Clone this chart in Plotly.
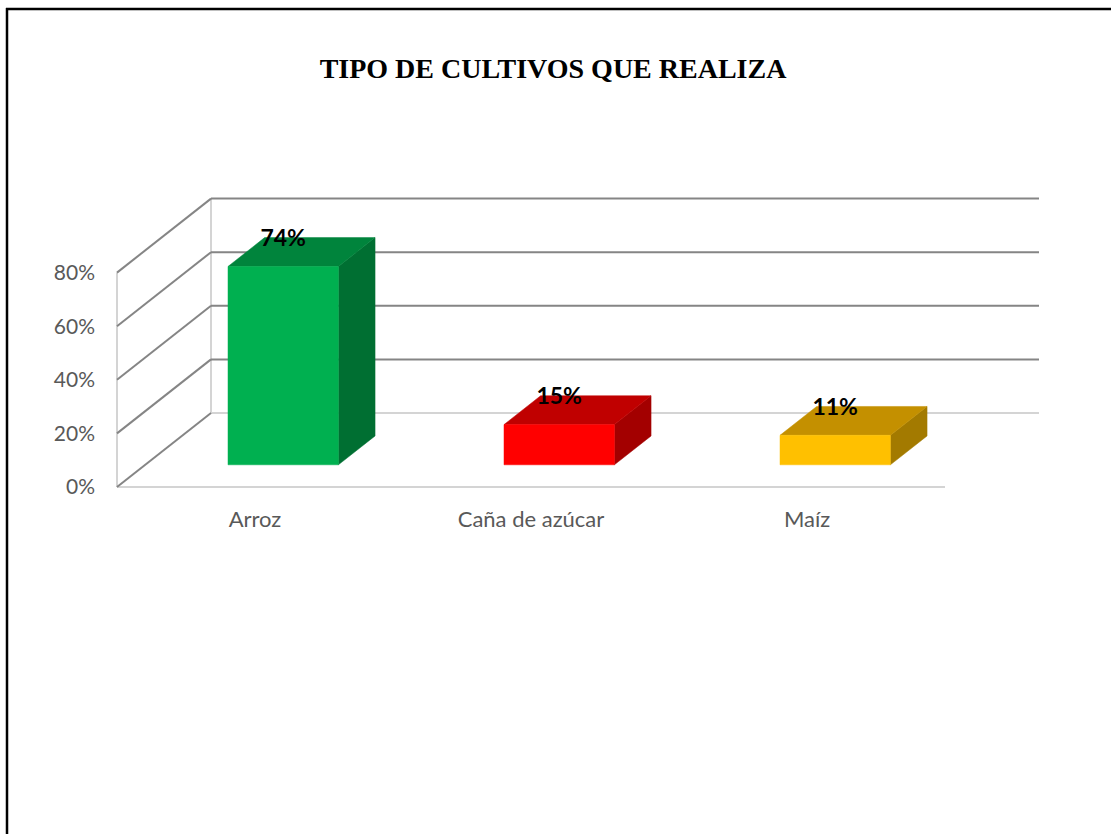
import plotly.graph_objects as go

# ---------------- data ----------------
categories = ["Arroz", "Caña de azúcar", "Maíz"]
values = [74, 15, 11]
value_labels = ["74%", "15%", "11%"]
tick_values = [0, 20, 40, 60, 80]
tick_labels = ["0%", "20%", "40%", "60%", "80%"]
front_colors = ["#00B050", "#FF0000", "#FFC000"]
top_colors = ["#00843C", "#C00000", "#C49000"]
side_colors = ["#006F32", "#A30000", "#A37A00"]
title_text = "TIPO DE CULTIVOS QUE REALIZA"

# ---------------- layout geometry (pixels) ----------------
W, H = 1111, 834
PX_CAT = 276.0      # pixels per category
PX_PCT = 2.68       # pixels per percent
X0_PX = 117         # pixel x of front-left corner
Y0_PX = 487         # pixel y of front floor
DEPTH_DX_PX = 94
DEPTH_DY_PX = 74
DDX = DEPTH_DX_PX / PX_CAT
DDY = DEPTH_DY_PX / PX_PCT
BAR_HALF = 0.2
F0, F1 = 0.30, 0.69
LABEL_DY_PX = 3     # small downward nudge of data labels
N = len(categories)

L = 110
B = 493
x_range = [(L - X0_PX) / PX_CAT, (W - X0_PX) / PX_CAT]
y_range = [(Y0_PX - B) / PX_PCT, Y0_PX / PX_PCT]


def proj(c, v, d):
    return c + d * DDX, v + d * DDY


def seg(p, q):
    return [p[0], q[0]], [p[1], q[1]]


fig = go.Figure()

DARK = "#858585"
LIGHT = "#D4D4D4"
vmax = tick_values[-1]


def add_line(p, q, color, width=2):
    xs, ys = seg(p, q)
    fig.add_trace(go.Scatter(x=xs, y=ys, mode="lines",
                             line=dict(color=color, width=width),
                             hoverinfo="skip", showlegend=False))


# light wall edges / floor
add_line(proj(0, 0, 0), proj(0, vmax, 0), LIGHT)
add_line(proj(0, 0, 1), proj(0, vmax, 1), LIGHT)
add_line(proj(0, 0, 0), proj(N, 0, 0), LIGHT)
# back wall gridlines and side-wall diagonals
for t in tick_values:
    add_line(proj(0, t, 1), proj(N, t, 1), LIGHT if t == 0 else DARK)
for t in tick_values:
    add_line(proj(0, t, 0), proj(0, t, 1), DARK)


def add_face(pts, color):
    xs = [p[0] for p in pts] + [pts[0][0]]
    ys = [p[1] for p in pts] + [pts[0][1]]
    fig.add_trace(go.Scatter(x=xs, y=ys, mode="lines", fill="toself",
                             fillcolor=color, line=dict(color=color, width=0.5),
                             hoverinfo="skip", showlegend=False))


for i, v in enumerate(values):
    c0 = i + 0.5 - BAR_HALF
    c1 = i + 0.5 + BAR_HALF
    add_face([proj(c1, 0, F0), proj(c1, 0, F1), proj(c1, v, F1), proj(c1, v, F0)], side_colors[i])
    add_face([proj(c0, v, F0), proj(c1, v, F0), proj(c1, v, F1), proj(c0, v, F1)], top_colors[i])
    add_face([proj(c0, 0, F0), proj(c1, 0, F0), proj(c1, v, F0), proj(c0, v, F0)], front_colors[i])

# data labels
lx = [proj(i + 0.5, v, F0)[0] for i, v in enumerate(values)]
ly = [proj(i + 0.5, v, F1)[1] - LABEL_DY_PX / PX_PCT for i, v in enumerate(values)]
fig.add_trace(go.Scatter(x=lx, y=ly, mode="text", text=value_labels,
                         textposition="middle center",
                         textfont=dict(family="Lato", size=23, color="#000000", weight="bold"),
                         hoverinfo="skip", showlegend=False, cliponaxis=False))


# frame border (decoration)
def px_to_paper_x(px):
    return (px - L) / (W - L)


def px_to_paper_y(py):
    return (B - py) / B


fig.add_shape(type="line", xref="paper", yref="paper",
              x0=px_to_paper_x(7), x1=px_to_paper_x(7),
              y0=px_to_paper_y(8), y1=px_to_paper_y(H + 5),
              line=dict(color="#000000", width=2.5))
fig.add_shape(type="line", xref="paper", yref="paper",
              x0=px_to_paper_x(6), x1=px_to_paper_x(W + 5),
              y0=px_to_paper_y(9), y1=px_to_paper_y(9),
              line=dict(color="#000000", width=2.5))

fig.update_layout(
    width=W, height=H,
    margin=dict(l=L, r=0, t=0, b=H - B, pad=0),
    paper_bgcolor="#FFFFFF", plot_bgcolor="rgba(0,0,0,0)",
    showlegend=False,
    title=dict(text="<b>" + title_text + "</b>", x=553 / W, xanchor="center",
               xref="container", yref="container", y=1 - 68 / H, yanchor="middle",
               font=dict(family="Liberation Serif", size=28, color="#000000")),
    xaxis=dict(range=x_range, showgrid=False, zeroline=False, showline=False,
               tickmode="array", tickvals=[i + 0.5 for i in range(N)], ticktext=categories,
               tickfont=dict(family="Lato", size=22, color="#595959"),
               ticks="", ticklabelstandoff=11, fixedrange=True),
    yaxis=dict(range=y_range, showgrid=False, zeroline=False, showline=False,
               tickmode="array", tickvals=tick_values, ticktext=tick_labels,
               tickfont=dict(family="Lato", size=21, color="#595959"),
               ticks="", ticklabelstandoff=14, fixedrange=True),
    hovermode=False,
)

fig.write_html("out.html", config={"displayModeBar": False},
               post_script="document.body.style.margin='0';document.body.style.overflow='hidden';")
